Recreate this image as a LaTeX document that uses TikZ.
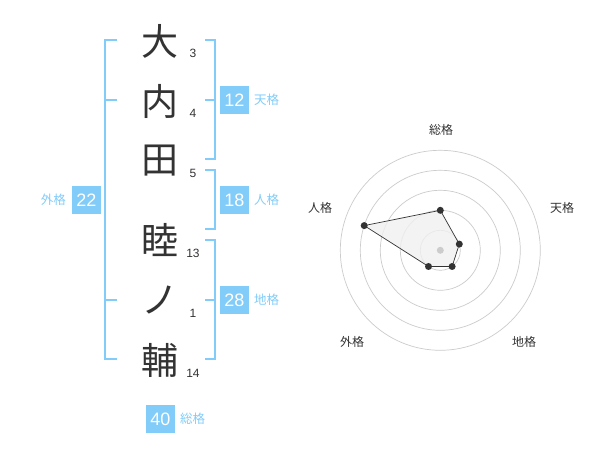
\documentclass[tikz,border=0pt]{standalone}
\usepackage{fontspec}
\setmainfont{Liberation Sans}
\newfontfamily\jp{Noto Sans CJK JP}
\definecolor{kblue}{RGB}{130,204,250}
\definecolor{ktext}{RGB}{51,51,51}
\definecolor{kring}{RGB}{204,204,204}
\definecolor{kfill}{RGB}{240,240,240}
\tikzset{
  kanji/.style={font=\jp\fontsize{37}{37}\selectfont, text=ktext, inner sep=0pt},
  strokes/.style={font=\fontsize{12}{12}\selectfont, text=ktext, inner sep=0pt},
  numbox/.style={fill=kblue, text=white, minimum width=29pt, minimum height=28pt, inner sep=0pt, font=\fontsize{18}{18}\selectfont},
  kaku/.style={font=\jp\fontsize{12.5}{12.5}\selectfont, text=kblue, inner sep=0pt},
  bracket/.style={draw=kblue, line width=1.6pt},
  ring/.style={draw=kring, line width=0.7pt},
  axislabel/.style={font=\jp\fontsize{12}{12}\selectfont, text=ktext, inner sep=0pt},
  dot/.style={circle, fill=ktext, minimum size=7pt, inner sep=0pt},
}
\begin{document}
\begin{tikzpicture}[x=1pt,y=-1pt]
\useasboundingbox (0,0) rectangle (600,470);
\fill[white] (0,0) rectangle (600,470);
% kanji
\node[kanji] (k1) at (160,41) {大};
\node[kanji] (k2) at (160,101) {内};
\node[kanji] (k3) at (160,161) {田};
\node[kanji] (k4) at (160,240) {睦};
\node[kanji] (k5) at (160,300) {ノ};
\node[kanji] (k6) at (160,360) {輔};
% stroke counts
\node[strokes] (s1) at (193,53) {3};
\node[strokes] (s2) at (193,113) {4};
\node[strokes] (s3) at (193,173) {5};
\node[strokes] (s4) at (193,253) {13};
\node[strokes] (s5) at (193,313) {1};
\node[strokes] (s6) at (193,373) {14};
% left bracket
\coordinate (la) at (105,40);
\coordinate (lb) at (105,359);
\draw[bracket] (117,40) -- (la) -- (lb) -- (117,359);
\draw[bracket] (105,100) -- (117,100);
\draw[bracket] (105,300) -- (117,300);
% right brackets
\draw[bracket] (205,40) -- (215,40) -- (215,159) -- (205,159);
\draw[bracket] (205,100) -- (215,100);
\draw[bracket] (205,170) -- (215,170) -- (215,229) -- (205,229);
\draw[bracket] (205,240) -- (215,240) -- (215,359) -- (205,359);
\draw[bracket] (205,300) -- (215,300);
% boxes
\node[numbox] (b12) at (234.5,100) {12};
\node[kaku, anchor=west] (t12) at (254,100) {天格};
\node[numbox] (b18) at (234.5,200) {18};
\node[kaku, anchor=west] (t18) at (254,200) {人格};
\node[numbox] (b28) at (234.5,300) {28};
\node[kaku, anchor=west] (t28) at (254,300) {地格};
\node[numbox] (b22) at (86.5,200) {22};
\node[kaku, anchor=east] (t22) at (66,200) {外格};
\node[numbox] (b40) at (160.5,419) {40};
\node[kaku, anchor=west] (t40) at (180,419) {総格};
% radar
\coordinate (c) at (440.3,250.3);
\foreach \r in {20,40,60,80,100} \draw[ring] (c) circle[radius=\r];
\coordinate (p1) at (440.3,210.3);
\coordinate (p2) at (459.3,244.1);
\coordinate (p3) at (452.1,266.5);
\coordinate (p4) at (428.5,266.5);
\coordinate (p5) at (364.2,225.6);
\draw[ktext, fill=kfill, fill opacity=0.8, line width=0.7pt] (p1) -- (p2) -- (p3) -- (p4) -- (p5) -- cycle;
\fill[kring] (c) circle[radius=3.5];
\foreach \p in {p1,p2,p3,p4,p5} \node[dot] at (\p) {};
\node[axislabel] (a1) at (441,130) {総格};
\node[axislabel] (a2) at (562,208) {天格};
\node[axislabel] (a3) at (524,342) {地格};
\node[axislabel] (a4) at (352,342) {外格};
\node[axislabel] (a5) at (320,208) {人格};
\end{tikzpicture}
\end{document}
